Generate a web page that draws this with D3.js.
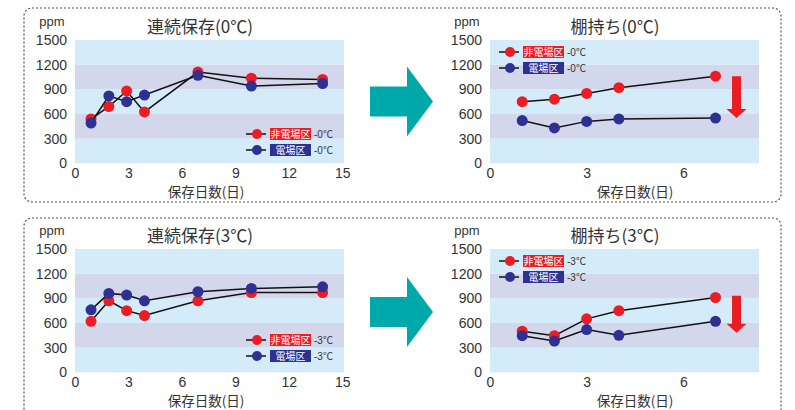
<!DOCTYPE html>
<html>
<head>
<meta charset="utf-8">
<script src="https://cdn.jsdelivr.net/npm/d3@7/dist/d3.min.js"></script>
<style>
  body { margin: 0; background: #fff; }
  svg { display: block; }
  text { font-family: "Liberation Sans", "Noto Sans CJK JP", sans-serif; fill: #333; }
  .jp { font-family: "Noto Sans CJK JP", sans-serif; }
</style>
</head>
<body>
<svg id="chart"></svg>
<script>
var width = 795;
var height = 410;

// data
var contDays = [0.9, 1.9, 2.9, 3.9, 6.9, 9.9, 13.9];
var shelfDays = [1, 2, 3, 4, 7];

var cont0Red = [540, 690, 880, 625, 1110, 1035, 1020];
var cont0Blue = [490, 820, 750, 830, 1070, 940, 970];
var shelf0Red = [750, 780, 850, 920, 1060];
var shelf0Blue = [520, 430, 510, 540, 550];

var cont3Red = [620, 870, 750, 690, 870, 970, 970];
var cont3Blue = [760, 960, 940, 870, 980, 1020, 1040];
var shelf3Red = [500, 445, 650, 750, 910];
var shelf3Blue = [445, 380, 520, 450, 620];

var yTicks = [0, 300, 600, 900, 1200, 1500];
var contTicks = [0, 3, 6, 9, 12, 15];
var shelfTicks = [0, 3, 6];

var seriesNames = ["非電場区", "電場区"];
var titles = ["連続保存(0℃)", "棚持ち(0℃)", "連続保存(3℃)", "棚持ち(3℃)"];
var tempLabels = ["-0℃", "-0℃", "-3℃", "-3℃"];
var xTitle = "保存日数(日)";

var red = "#ec1c24";
var blue = "#2e3192";
var teal = "#00a9a9";

var svg = d3.select("#chart").attr("width", width).attr("height", height);

// dotted frames
svg.append("rect").attr("x", 24).attr("y", 8).attr("width", 757).attr("height", 194)
  .attr("rx", 8).attr("fill", "none").attr("stroke", "#555").attr("stroke-width", 1.2)
  .attr("stroke-dasharray", "2,2");
svg.append("rect").attr("x", 24).attr("y", 218).attr("width", 757).attr("height", 220)
  .attr("rx", 8).attr("fill", "none").attr("stroke", "#555").attr("stroke-width", 1.2)
  .attr("stroke-dasharray", "2,2");

function drawPanel(p) {
  var x = d3.scaleLinear().domain(p.xDomain).range([p.left, p.right]);
  var y = d3.scaleLinear().domain([0, 1500]).range([p.bottom, p.top]);
  var g = svg.append("g");

  // bands
  for (var i = 0; i < yTicks.length - 1; i++) {
    g.append("rect")
      .attr("x", p.left).attr("width", p.right - p.left)
      .attr("y", y(yTicks[i + 1])).attr("height", y(yTicks[i]) - y(yTicks[i + 1]))
      .attr("fill", i % 2 === 0 ? "#d4ecf9" : "#d3d7ec");
  }

  var yAxis = g.append("g").attr("transform", `translate(${p.left - 6},0)`)
    .call(d3.axisLeft(y).tickValues(yTicks).tickFormat(d3.format("d")).tickSize(0).tickPadding(2));
  yAxis.attr("font-family", null).attr("font-size", null);
  yAxis.select(".domain").remove();
  yAxis.selectAll("text").style("font-size", "14px").attr("fill", "#333");

  var xAxis = g.append("g").attr("transform", `translate(0,${p.bottom + 3})`)
    .call(d3.axisBottom(x).tickValues(p.xTicks).tickFormat(d3.format("d")).tickSize(0).tickPadding(2));
  xAxis.attr("font-family", null).attr("font-size", null);
  xAxis.select(".domain").remove();
  xAxis.selectAll("text").style("font-size", "14px").attr("fill", "#333");

  g.append("text").attr("x", p.left - 23).attr("y", p.top - 14)
    .attr("text-anchor", "middle").style("font-size", "13px").text("ppm");
  g.append("text").attr("class", "jp").attr("x", p.titleX).attr("y", p.top - 7)
    .attr("text-anchor", "middle").style("font-size", "17px").text(p.title);
  g.append("text").attr("class", "jp").attr("x", p.xTitleX).attr("y", p.bottom + 34)
    .attr("text-anchor", "middle").style("font-size", "13.5px").text(xTitle);

  var line = d3.line().x(function(d) { return x(d[0]); }).y(function(d) { return y(d[1]); });
  [[p.red, red], [p.blue, blue]].forEach(function(s) {
    var pts = p.days.map(function(d, i) { return [d, s[0][i]]; });
    g.append("path").datum(pts).attr("d", line)
      .attr("fill", "none").attr("stroke", "#111").attr("stroke-width", 1.5);
    g.selectAll(null).data(pts).enter().append("circle")
      .attr("cx", function(d) { return x(d[0]); })
      .attr("cy", function(d) { return y(d[1]); })
      .attr("r", 5.5).attr("fill", s[1]);
  });

  // legend
  [red, blue].forEach(function(c, i) {
    var ly = p.legY + i * 16;
    var lg = g.append("g").attr("transform", `translate(${p.legX},${ly})`);
    lg.append("line").attr("x1", -11).attr("x2", 9).attr("stroke", "#111").attr("stroke-width", 1.5);
    lg.append("circle").attr("r", 5).attr("fill", c);
    lg.append("rect").attr("x", 13).attr("y", -6).attr("width", 41).attr("height", 12).attr("fill", c);
    lg.append("text").attr("class", "jp").attr("x", 33.5).attr("y", 3.5)
      .attr("text-anchor", "middle").style("font-size", "10px").style("fill", "#fff")
      .text(seriesNames[i]);
    lg.append("text").attr("x", 57).attr("y", 3.5)
      .style("font-size", "10px").text(p.temp);
  });

  if (p.arrow) {
    var ax = 736.5, at = y(p.arrowTop), ah = y(p.arrowHead), tip = ah + 9;
    g.append("path")
      .attr("d", `M${ax - 4.5},${at}H${ax + 4.5}V${ah}H${ax + 10}L${ax},${tip}L${ax - 10},${ah}H${ax - 4.5}Z`)
      .attr("fill", red);
  }
}

var panels = [
  {left: 75, right: 344, top: 40, bottom: 163.3, xDomain: [0, 15.1], xTicks: contTicks,
   days: contDays, red: cont0Red, blue: cont0Blue, title: titles[0], temp: tempLabels[0],
   titleX: 200, xTitleX: 206, legX: 257, legY: 134},
  {left: 490, right: 759, top: 40, bottom: 163.3, xDomain: [0, 8.35], xTicks: shelfTicks,
   days: shelfDays, red: shelf0Red, blue: shelf0Blue, title: titles[1], temp: tempLabels[1],
   titleX: 615, xTitleX: 635, legX: 510, legY: 52, arrow: true, arrowTop: 1060, arrowHead: 660},
  {left: 75, right: 344, top: 249, bottom: 372.3, xDomain: [0, 15.1], xTicks: contTicks,
   days: contDays, red: cont3Red, blue: cont3Blue, title: titles[2], temp: tempLabels[2],
   titleX: 200, xTitleX: 206, legX: 257, legY: 340},
  {left: 490, right: 759, top: 249, bottom: 372.3, xDomain: [0, 8.35], xTicks: shelfTicks,
   days: shelfDays, red: shelf3Red, blue: shelf3Blue, title: titles[3], temp: tempLabels[3],
   titleX: 615, xTitleX: 635, legX: 510, legY: 261, arrow: true, arrowTop: 930, arrowHead: 590}
];
panels.forEach(drawPanel);

// teal arrows between panels
[101.5, 312].forEach(function(cy) {
  svg.append("path")
    .attr("d", `M370,${cy - 15}H407V${cy - 35}L433,${cy}L407,${cy + 35}V${cy + 15}H370Z`)
    .attr("fill", teal);
});
</script>
</body>
</html>
